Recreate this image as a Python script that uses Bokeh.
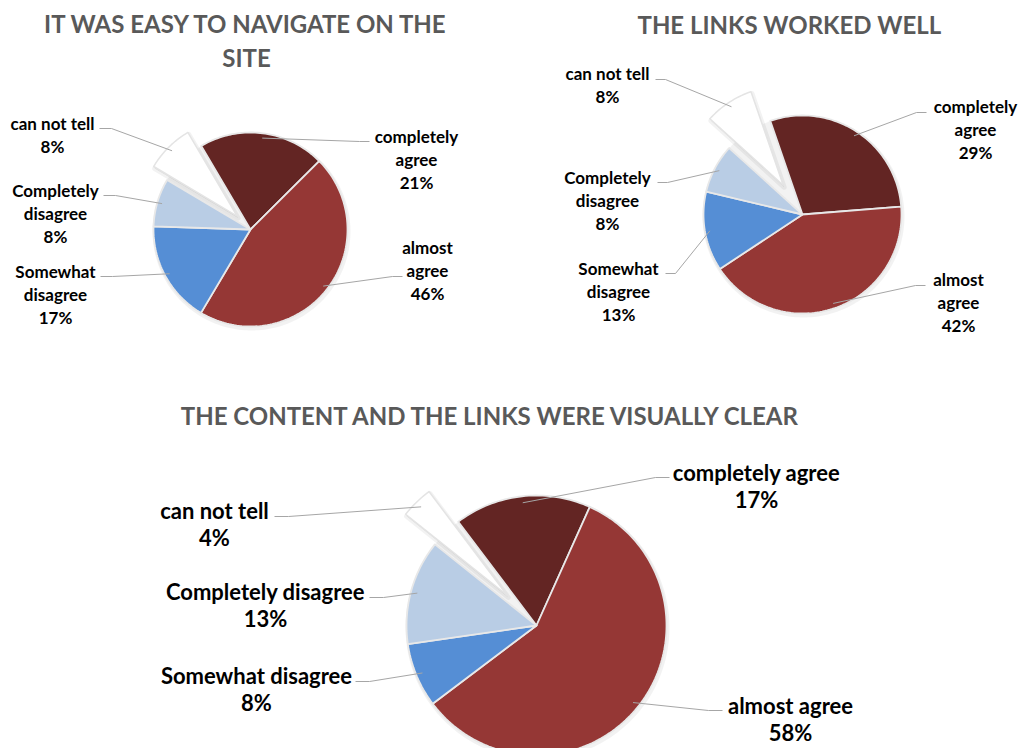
import math
from bokeh.plotting import figure
from bokeh.models import Range1d, ColumnDataSource
from bokeh.embed import file_html
from bokeh.resources import INLINE
from bokeh.core.properties import value

# ---------------- data ----------------
categories = ["completely agree", "almost agree", "Somewhat disagree",
              "Completely disagree", "can not tell"]
navigate_pct = [21, 46, 17, 8, 8]
links_pct = [29, 42, 13, 8, 8]
visual_pct = [17, 58, 8, 13, 4]
title_navigate = ["IT WAS EASY TO NAVIGATE ON THE", "SITE"]
title_links = ["THE LINKS WORKED WELL"]
title_visual = ["THE CONTENT AND THE LINKS WERE VISUALLY CLEAR"]
slice_colors = ["#632523", "#953735", "#558ED5", "#B9CDE5", "#FFFFFF"]

# ---------------- layout (screen pixels) ----------------
W, H = 1022, 748
PAGE_H = 748


def Y(sy):
    return PAGE_H - sy


charts = [
    dict(values=navigate_pct, title=title_navigate, title_x=246, title_y=[23, 57],
         cx=250, cy=229, r=97, start=-30.5, explode=19, font="17px", lh=23, wrap=True,
         labels=[  # text center x, first line y, leader start x, y, elbow dx
             (416, 136, 369, 141, -10),
             (427, 247, 402, 276, -10),
             (55, 271, 100, 276, 12),
             (55, 190, 103, 195, 12),
             (52, 123, 99, 128, 12),
         ]),
    dict(values=links_pct, title=title_links, title_x=789, title_y=[24],
         cx=802, cy=214, r=99, start=-19, explode=35, font="17px", lh=23, wrap=True,
         labels=[
             (975, 106, 926, 112, -10),
             (958, 279, 925, 285, -10),
             (618, 268, 665, 273, 10),
             (607, 177, 657, 182, 10),
             (607, 73, 655, 79, 10),
         ]),
    dict(values=visual_pct, title=title_visual, title_x=491, title_y=[415],
         cx=536, cy=625, r=130, start=-37, explode=42, font="22px", lh=27, wrap=False,
         labels=[
             (756, 472, 669, 477, -14),
             (790, 705, 722, 710, -14),
             (256, 675, 355, 681, 14),
             (265, 591, 369, 597, 14),
             (214, 510, 274, 516, 14),
         ]),
]

p = figure(width=W, height=H, x_range=Range1d(0, W), y_range=Range1d(PAGE_H - H, PAGE_H),
           output_backend="svg", toolbar_location=None, min_border=0,
           background_fill_color="white", border_fill_color="white")
p.axis.visible = False
p.xgrid.visible = False
p.ygrid.visible = False
p.outline_line_color = None


def wedge(cx, cy, r, a0, a1):
    n = max(10, int(abs(a1 - a0) / 1.5))
    xs, ys = [cx], [cy]
    for i in range(n + 1):
        a = math.radians(a0 + (a1 - a0) * i / n)
        xs.append(cx + r * math.sin(a))
        ys.append(cy + r * math.cos(a))
    return xs, ys


def wrap_label(name):
    if name == "can not tell":
        return [name]
    return name.rsplit(" ", 1)


for ch in charts:
    cx, cy, r = ch["cx"], Y(ch["cy"]), ch["r"]
    # soft shadow of the pie
    sx, sy = wedge(cx + 1, cy - 2, r + 2, 0, 360)
    p.patch(sx[1:], sy[1:], fill_color="#000000", fill_alpha=0.05, line_color=None)

    normal = dict(xs=[], ys=[], c=[])
    expl = None
    cum = ch["start"]
    anchors = []
    for i, v in enumerate(ch["values"]):
        span = v / 100.0 * 360.0
        a0, a1 = cum, cum + span
        mid = math.radians((a0 + a1) / 2)
        ox = oy = 0.0
        if i == len(ch["values"]) - 1:
            ox = ch["explode"] * math.sin(mid)
            oy = ch["explode"] * math.cos(mid)
        xs, ys = wedge(cx + ox, cy + oy, r, a0, a1)
        if i == len(ch["values"]) - 1:
            expl = (xs, ys, slice_colors[i])
        else:
            normal["xs"].append(xs)
            normal["ys"].append(ys)
            normal["c"].append(slice_colors[i])
        anchors.append((cx + ox + 0.95 * r * math.sin(mid), cy + oy + 0.95 * r * math.cos(mid)))
        cum = a1

    p.patches("xs", "ys", source=ColumnDataSource(normal), fill_color="c",
              line_color="#E8E8E8", line_width=1.8, line_join="round")
    # exploded slice with a soft grey halo
    ex, ey, ec = expl
    p.patch([x + 1 for x in ex], [y - 2 for y in ey], fill_color="#000000", fill_alpha=0.09,
            line_color="#000000", line_alpha=0.05, line_width=5, line_join="round")
    p.patch(ex, ey, fill_color=ec, line_color="#E4E4E4", line_width=1.5, line_join="round")

    # leader lines
    lxs, lys = [], []
    for (tx, ty, lx, ly, dx), (axp, ayp) in zip(ch["labels"], anchors):
        lxs.append([lx, lx + dx, axp])
        lys.append([Y(ly), Y(ly), ayp])
    p.multi_line(lxs, lys, line_color="#A6A6A6", line_width=1)

    # labels
    txs, tys, tts = [], [], []
    for (tx, ty, lx, ly, dx), name, v in zip(ch["labels"], categories, ch["values"]):
        lines = wrap_label(name) if ch["wrap"] else [name]
        lines = lines + ["%d%%" % v]
        for k, t in enumerate(lines):
            txs.append(tx)
            tys.append(Y(ty + k * ch["lh"]))
            tts.append(t)
    p.text(txs, tys, text=tts, text_font=value("Lato"), text_font_style="bold",
           text_font_size=value(ch["font"]), text_align="center", text_baseline="middle",
           text_color="#000000")

    # title
    p.text([ch["title_x"]] * len(ch["title"]), [Y(t) for t in ch["title_y"]], text=ch["title"],
           text_font=value("Lato"), text_font_style="bold", text_font_size=value("24px"),
           text_align="center", text_baseline="middle", text_color="#595959")

open("out.html", "w").write(file_html(p, INLINE))
